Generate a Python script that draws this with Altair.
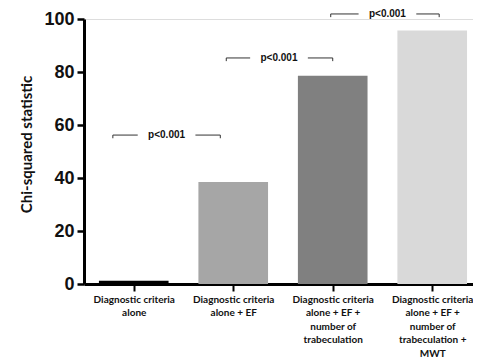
import altair as alt
import pandas as pd

categories = [
    "Diagnostic criteria|alone",
    "Diagnostic criteria|alone + EF",
    "Diagnostic criteria|alone + EF +|number of|trabeculation",
    "Diagnostic criteria|alone + EF +|number of|trabeculation +|MWT",
]
values = [1.2, 38.5, 78.6, 95.7]
colors = ["#000000", "#A6A6A6", "#808080", "#D9D9D9"]

# brackets: start, end (category units), height, label
br_start = [0.29, 1.43, 2.48]
br_end = [1.37, 2.50, 3.57]
br_y = [56.2, 85.3, 101.9]
br_text_x = [0.83, 1.96, 3.05]
br_label = ["p<0.001", "p<0.001", "p<0.001"]

half_w = 0.35
gap = 0.29
tick_len = 1.2

bars = pd.DataFrame({
    "lo": [i + 0.5 - half_w for i in range(len(values))],
    "hi": [i + 0.5 + half_w for i in range(len(values))],
    "value": values,
    "color": colors,
})

segs = []
for s, e, y, t in zip(br_start, br_end, br_y, br_text_x):
    segs.append({"x": s, "x2": t - gap, "y": y, "y2": y})
    segs.append({"x": t + gap, "x2": e, "y": y, "y2": y})
    segs.append({"x": s, "x2": s, "y": y, "y2": y - tick_len})
    segs.append({"x": e, "x2": e, "y": y, "y2": y - tick_len})
segs = pd.DataFrame(segs)
texts = pd.DataFrame({"x": br_text_x, "y": br_y, "label": br_label})

label_arr = "[" + ",".join("'" + c + "'" for c in categories) + "]"
label_expr = f"split({label_arr}[datum.value - 0.5], '|')"

xscale = alt.Scale(domain=[0, 3.91], nice=False, zero=False)
yscale = alt.Scale(domain=[0, 100], nice=False)

bar_layer = alt.Chart(bars).mark_bar().encode(
    x=alt.X("lo:Q", scale=xscale, axis=alt.Axis(
        values=[0.5, 1.5, 2.5, 3.5], labelExpr=label_expr, title=None,
        grid=False, domainWidth=3, domainColor="black", tickColor="black",
        tickWidth=2, tickSize=7, labelFont="Lato", labelFontWeight="bold",
        labelFontSize=10, labelLineHeight=13.5, labelColor="#111",
        labelOverlap=False, labelFlush=False, labelPadding=3, labelBaseline="top")),
    x2="hi:Q",
    y=alt.Y("value:Q", scale=yscale, axis=alt.Axis(
        values=[0, 20, 40, 60, 80, 100], title="Chi-squared statistic",
        grid=False, domainWidth=3, domainColor="black", tickColor="black",
        tickWidth=2.5, tickSize=7, labelPadding=3, labelFont="Liberation Sans",
        labelFontWeight="bold", labelFontSize=18, labelColor="#111",
        titleFont="Lato", titleFontWeight="bold", titleFontSize=15,
        titleColor="#111", titleX=-58, titleY=125, titleAngle=-90,
        titleAlign="center", titleBaseline="middle")),
    y2=alt.datum(0),
    color=alt.Color("color:N", scale=None),
)

rule_layer = alt.Chart(segs).mark_rule(color="#333", strokeWidth=1).encode(
    x=alt.X("x:Q", scale=xscale), x2="x2:Q",
    y=alt.Y("y:Q", scale=yscale), y2="y2:Q",
)

text_layer = alt.Chart(texts).mark_text(
    font="Liberation Sans", fontWeight="bold", fontSize=10, color="#111",
    baseline="middle", align="center",
).encode(
    x=alt.X("x:Q", scale=xscale),
    y=alt.Y("y:Q", scale=yscale),
    text="label:N",
)

chart = alt.layer(bar_layer, rule_layer, text_layer).properties(
    width=389, height=265,
    autosize=alt.AutoSizeParams(type="none"),
    padding={"left": 76, "top": 11, "right": 0, "bottom": 77},
).configure_view(stroke=None).configure(background="white")

chart.save("out.html", embed_options={"renderer": "svg", "actions": False})
